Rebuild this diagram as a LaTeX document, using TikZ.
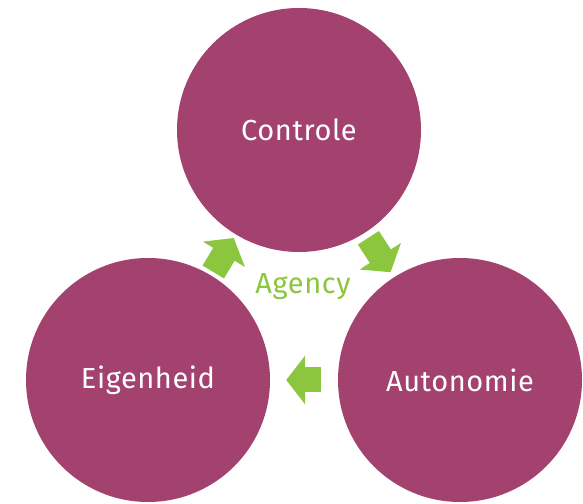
\documentclass[tikz,border=0pt]{standalone}
\usepackage{fontspec}
\setmainfont{Fira Sans}[LetterSpace=2]
\usetikzlibrary{arrows.meta}
\definecolor{plum}{HTML}{A3416F}
\definecolor{leaf}{HTML}{8CC63E}
\tikzset{
    pillar-circle/.style = {circle, fill=plum, text=white, minimum size=244pt, inner sep=0pt, font=\fontsize{29}{34}\selectfont},
    agency-arrow/.style = {draw=leaf, line width=25pt, -{Triangle[width=48pt, length=19pt]}},
    agency-label/.style = {text=leaf, font=\fontsize{29}{34}\selectfont},
}

\begin{document}
\begin{tikzpicture}[x=1pt, y=1pt]
\useasboundingbox (0,0) rectangle (583,503);
\node[pillar-circle] (controle) at (299,373) {Controle};
\node[pillar-circle] (eigenheid) at (148,123) {Eigenheid};
\node[pillar-circle] (autonomie) at (460,123) {Autonomie};
\node[agency-label] (agency) at (303,216) {Agency};
\draw[agency-arrow, shorten <=4pt, shorten >=4pt] (eigenheid) -- (controle);
\draw[agency-arrow, shorten <=6pt, shorten >=6pt] (controle) -- (autonomie);
\draw[agency-arrow, shorten <=17pt, shorten >=16pt] (autonomie) -- (eigenheid);
\end{tikzpicture}
\end{document}
